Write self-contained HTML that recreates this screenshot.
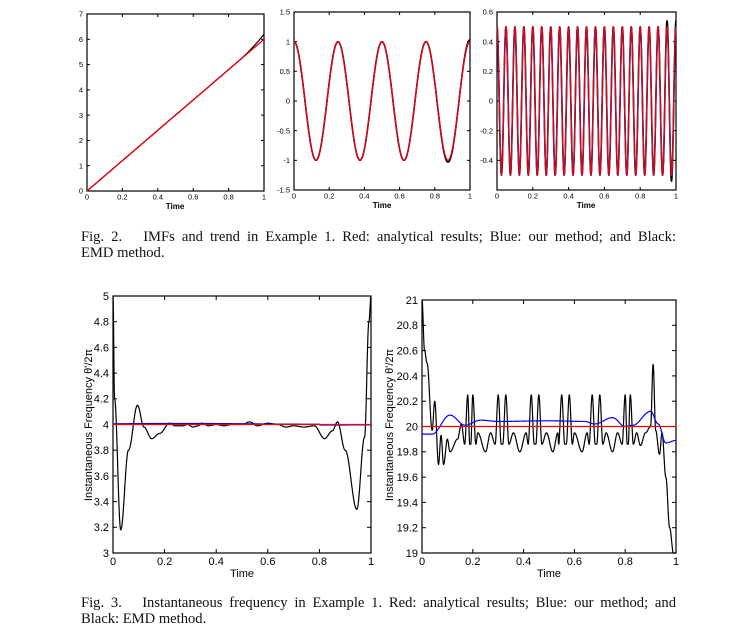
<!DOCTYPE html>
<html><head><meta charset="utf-8">
<style>
html,body{margin:0;padding:0;background:#fff;width:754px;height:640px;overflow:hidden}
svg{position:absolute;left:0;top:0}
.cap{position:absolute;left:81px;width:595px;font-family:"Liberation Serif",serif;font-size:14.6px;line-height:16px;color:#111;white-space:nowrap}
.j{text-align:justify;text-align-last:justify}
text{font-family:"Liberation Sans",sans-serif;fill:#000}
</style></head><body>
<svg id="s" width="754" height="640" xmlns="http://www.w3.org/2000/svg"></svg>
<div class="cap j" style="top:229px">Fig. 2.&nbsp;&nbsp; IMFs and trend in Example 1. Red: analytical results; Blue: our method; and Black:</div>
<div class="cap" style="top:245px">EMD method.</div>
<div class="cap j" style="top:595px">Fig. 3.&nbsp;&nbsp; Instantaneous frequency in Example 1. Red: analytical results; Blue: our method; and</div>
<div class="cap" style="top:611px">Black: EMD method.</div>
<script>
const S=document.getElementById('s');let h='';
function axes(L,R,T,B,ymin,ymax,yt,yfmt,fs,xfs,tl){
  h+=`<rect x="${L}" y="${T}" width="${R-L}" height="${B-T}" fill="none" stroke="#000" stroke-width="1.2"/>`;
  for(const v of yt){const y=B-(v-ymin)/(ymax-ymin)*(B-T);
    h+=`<line x1="${L}" x2="${L+tl}" y1="${y}" y2="${y}" stroke="#000"/><line x1="${R}" x2="${R-tl}" y1="${y}" y2="${y}" stroke="#000"/>`;
    h+=`<text x="${L-4}" y="${y+fs*0.35}" font-size="${fs}" text-anchor="end">${yfmt(v)}</text>`;}
  for(let i=0;i<=5;i++){const v=i*0.2,x=L+v*(R-L);
    h+=`<line x1="${x}" x2="${x}" y1="${B}" y2="${B-tl}" stroke="#000"/><line x1="${x}" x2="${x}" y1="${T}" y2="${T+tl}" stroke="#000"/>`;
    h+=`<text x="${x}" y="${B+xfs+1}" font-size="${xfs}" text-anchor="middle">${i==0?'0':i==5?'1':v.toFixed(1)}</text>`;}
}
function line(L,R,T,B,ymin,ymax,f,col,w,n){let d='';n=n||800;
  for(let i=0;i<=n;i++){const t=i/n;let v=f(t);v=Math.max(ymin,Math.min(ymax,v));
    d+=(i?'L':'M')+(L+t*(R-L)).toFixed(2)+','+(B-(v-ymin)/(ymax-ymin)*(B-T)).toFixed(2);}
  h+=`<path d="${d}" fill="none" stroke="${col}" stroke-width="${w}" stroke-linejoin="round"/>`;}
function interp(pts){return t=>{for(let i=1;i<pts.length;i++)if(t<=pts[i][0]){const a=pts[i-1],b=pts[i];const u=(t-a[0])/(b[0]-a[0]);const s=(1-Math.cos(Math.PI*u))/2;return a[1]+(b[1]-a[1])*s;}return pts[pts.length-1][1];}}
// plot1
let P=[87,264,14,191];
axes(...P,0,7,[0,1,2,3,4,5,6,7],v=>v,7.5,7.5,3);
line(...P,0,7,t=>6*t+(t>0.85?Math.pow((t-0.85)/0.15,2)*0.2:0),'#000',1.2,200);
line(...P,0,7,t=>6*t,'#00f',1,200);
line(...P,0,7,t=>6*t,'#e00',1.3,200);
h+=`<text x="175" y="209" font-size="8" text-anchor="middle" font-weight="bold">Time</text>`;
// plot2
P=[294,470,12,190];
axes(...P,-1.5,1.5,[-1.5,-1,-0.5,0,0.5,1,1.5],v=>v==0?'0':String(v),7.5,7.5,3);
line(...P,-1.5,1.5,t=>Math.cos(8*Math.PI*t)*(t>0.8?1.03:1),'#000',1.6,600);
line(...P,-1.5,1.5,t=>Math.cos(8*Math.PI*t),'#00f',1.2,600);
line(...P,-1.5,1.5,t=>Math.cos(8*Math.PI*t),'#e00',1.3,600);
h+=`<text x="382" y="208" font-size="8" text-anchor="middle" font-weight="bold">Time</text>`;
// plot3
P=[497,676,12,190];
axes(...P,-0.6,0.6,[-0.4,-0.2,0,0.2,0.4,0.6],v=>v==0?'0':v.toFixed(1),7.5,7.5,3);
line(...P,-0.6,0.6,t=>0.5*Math.cos(40*Math.PI*t)*(t>0.93?1.08:1),'#000',1.6,2000);
line(...P,-0.6,0.6,t=>0.5*Math.cos(40*Math.PI*t),'#33a',1.5,2000);
line(...P,-0.6,0.6,t=>0.5*Math.cos(40*Math.PI*t),'#e00',1.1,2000);
h+=`<text x="586" y="208" font-size="8" text-anchor="middle" font-weight="bold">Time</text>`;
// plot4
P=[113,371,296,553];
axes(...P,3,5,[3,3.2,3.4,3.6,3.8,4,4.2,4.4,4.6,4.8,5],v=>v==3||v==4||v==5?String(v):v.toFixed(1),11,11,4);
const b4=interp([[0,5],[0.006,4.2],[0.03,3.18],[0.06,3.8],[0.095,4.15],[0.12,3.98],[0.15,3.89],[0.18,3.93],[0.22,4.01],[0.24,3.99],[0.27,3.99],[0.29,4.0],[0.31,3.98],[0.33,3.99],[0.345,4.01],[0.37,3.99],[0.4,4.0],[0.43,3.99],[0.46,4.0],[0.5,4.0],[0.53,4.02],[0.56,3.99],[0.6,4.01],[0.64,4.0],[0.67,3.98],[0.7,3.99],[0.74,3.98],[0.78,3.99],[0.82,3.89],[0.85,3.95],[0.87,4.02],[0.9,3.8],[0.945,3.34],[0.975,3.9],[0.992,4.8],[1,5]]);
line(...P,3,5,b4,'#000',1.2,1000);
line(...P,3,5,t=>4.005+0.003*Math.sin(6*t)-(t>0.8?0.006:0),'#00f',1.3,300);
line(...P,3,5,t=>4,'#e00',1.3,10);
h+=`<text x="242" y="577" font-size="11" text-anchor="middle">Time</text>`;
h+=`<text transform="translate(92,425) rotate(-90)" font-size="11" text-anchor="middle">Instantaneous Frequency θ'/2π</text>`;
// plot5
P=[422,676,300,553];
axes(...P,19,21,[19,19.2,19.4,19.6,19.8,20,20.2,20.4,20.6,20.8,21],v=>v==19||v==20||v==21?String(v):v.toFixed(1),11,11,4);
let pts=[[0,21],[0.01,20.6],[0.02,20.5],[0.04,19.97],[0.05,20.2],[0.065,19.7],[0.075,19.93],[0.085,19.7],[0.1,19.9],[0.11,19.8],[0.14,19.9],[0.155,20.02]];
const spikes=[0.18,0.2,0.3,0.33,0.43,0.46,0.55,0.58,0.67,0.7,0.8,0.82];
for(const s of spikes){pts.push([s-0.012,19.86]);pts.push([s,20.25]);pts.push([s+0.012,19.86]);}
const extra=[[0.22,19.95],[0.25,19.8],[0.27,19.95],[0.36,19.95],[0.385,19.8],[0.41,19.95],[0.49,19.95],[0.515,19.8],[0.535,19.95],[0.6,19.95],[0.63,19.8],[0.65,19.95],[0.725,19.95],[0.75,19.8],[0.77,19.95],[0.845,19.95],[0.86,19.85],[0.88,19.95],[0.9,20.0],[0.91,20.49],[0.92,19.97],[0.935,19.78],[0.945,19.95],[0.96,19.6],[0.975,19.2],[0.99,19.0],[1,18.9]];
pts=pts.concat(extra).sort((a,b)=>a[0]-b[0]);
line(...P,19,21,interp(pts),'#000',1.2,1500);
line(...P,19,21,interp([[0,19.94],[0.04,19.94],[0.11,20.09],[0.17,20.01],[0.23,20.05],[0.3,20.04],[0.5,20.045],[0.64,20.04],[0.68,20.02],[0.75,20.07],[0.8,20.0],[0.83,20.01],[0.9,20.12],[0.93,20.02],[0.96,19.87],[1,19.89]]),'#00f',1.2,600);
line(...P,19,21,t=>20,'#e00',1.3,10);
h+=`<text x="549" y="577" font-size="11" text-anchor="middle">Time</text>`;
h+=`<text transform="translate(393,425) rotate(-90)" font-size="11" text-anchor="middle">Instantaneous Frequency θ'/2π</text>`;
S.innerHTML=h;
</script>
</body></html>
